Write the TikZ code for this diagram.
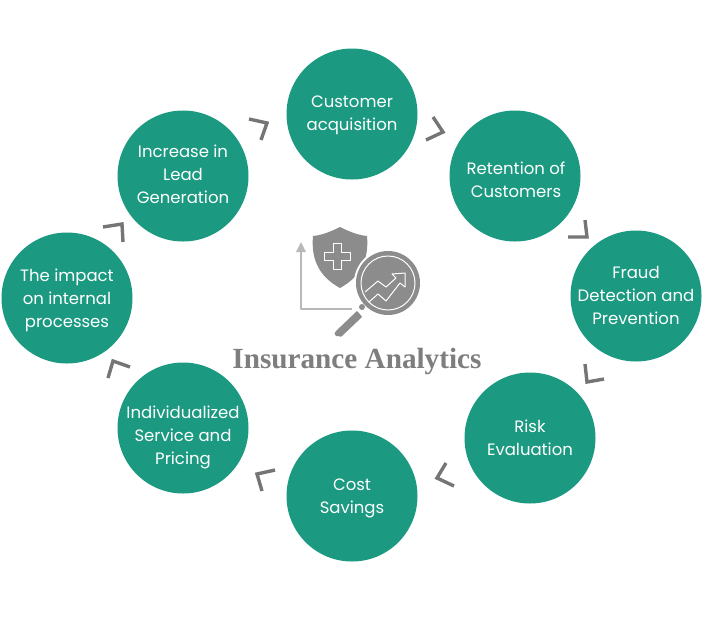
\documentclass[tikz,border=0pt]{standalone}
\usepackage{fontspec}
\setmainfont{Poppins}
\newfontfamily\titlefont{Liberation Serif}
\definecolor{teal1}{HTML}{1B9A81}
\definecolor{chev}{HTML}{757575}
\definecolor{icon}{HTML}{8C8C8C}
\definecolor{axisg}{HTML}{B8B8B8}
\tikzset{
  bubble/.style={circle,fill=teal1,minimum size=131pt,inner sep=0pt},
  bubbletext/.style={inner sep=0pt,text=white,align=center,font=\fontsize{16.5}{23}\selectfont},
  chevron/.style={draw=chev,line width=3.4pt,line join=miter,line cap=butt},
  title/.style={text=icon!90!black,inner sep=0pt,font=\titlefont\bfseries\fontsize{29.2}{31}\selectfont}
}
\begin{document}
\begin{tikzpicture}[x=1pt,y=-1pt]
\useasboundingbox (0,0) rectangle (704,625);
\fill[white] (0,0) rectangle (704,625);
\node[bubble] (acq) at (352,114) {};
\node[bubble] (ret) at (515,176) {};
\node[bubble] (fraud) at (636,296) {};
\node[bubble] (risk) at (530,438) {};
\node[bubble] (cost) at (352,496) {};
\node[bubble] (indiv) at (183,428) {};
\node[bubble] (impact) at (67,298) {};
\node[bubble] (lead) at (183,176) {};
\node[bubbletext] (acqt) at (352,115) {Customer\\acquisition};
\node[bubbletext] (rett) at (516,180) {Retention of\\Customers};
\node[bubbletext] (fraudt) at (636,295) {Fraud\\Detection and\\Prevention};
\node[bubbletext] (riskt) at (530,438) {Risk\\Evaluation};
\node[bubbletext] (costt) at (352,498) {Cost\\Savings};
\node[bubbletext] (indivt) at (183,437) {Individualized\\Service and\\Pricing};
\node[bubbletext] (impactt) at (67,300) {The impact\\on internal\\processes};
\node[bubbletext] (leadt) at (183,174) {Increase in\\Lead\\Generation};
% chevrons
\draw[chevron] (249,119) -- (267,123) -- (261,140);
\draw[chevron] (433,117) -- (443,132) -- (426,140);
\draw[chevron] (585,220) -- (587,237) -- (568,237);
\draw[chevron] (585,364) -- (587,382) -- (604,379);
\draw[chevron] (446,463) -- (437,478) -- (454,486);
\draw[chevron] (275,470) -- (257,474) -- (262,491);
\draw[chevron] (130,367) -- (113,361) -- (108,378);
\draw[chevron] (103,227) -- (122,224) -- (123,242);
% icon: axes
\draw[axisg,line width=1.5pt,line join=round] (301,250) -- (301,309) -- (352,309);
\fill[axisg] (301,242) -- (306,252) -- (296,252) -- cycle;
% shield
\fill[icon] (340,227) .. controls (330,232) and (322,235) .. (313,236)
  .. controls (311,258) and (318,276) .. (340,288)
  .. controls (362,276) and (369,258) .. (367,236)
  .. controls (358,235) and (350,232) .. (340,227) -- cycle;
\draw[white,line width=1pt,line join=round] (333,243) -- (341,243) -- (341,252) -- (350,252) -- (350,260) -- (341,260) -- (341,269) -- (333,269) -- (333,260) -- (324,260) -- (324,252) -- (333,252) -- cycle;
% magnifier
\fill[white] (388,283) circle (34);
\fill[icon] (388,283) circle (32);
\draw[white,line width=1pt] (388,283) circle (27);
\draw[white,line width=1pt,line join=round] (365,292) -- (378,281) -- (386,287) -- (396,278) -- (392,274) -- (405,273) -- (405,287) -- (400,283) -- (386,301) -- (378,294) -- (369,302);
\fill[icon] (362,307) circle (3);
\fill[icon] (357,311) -- (336,331) .. controls (334,333) and (334,334) .. (336,336) -- (339,336) .. controls (340,337) and (341,337) .. (342,336) -- (362,317) .. controls (361,315) and (359,313) .. (357,311) -- cycle;
\node[title] (ttl) at (357,362) {Insurance Analytics};
\end{tikzpicture}
\end{document}
